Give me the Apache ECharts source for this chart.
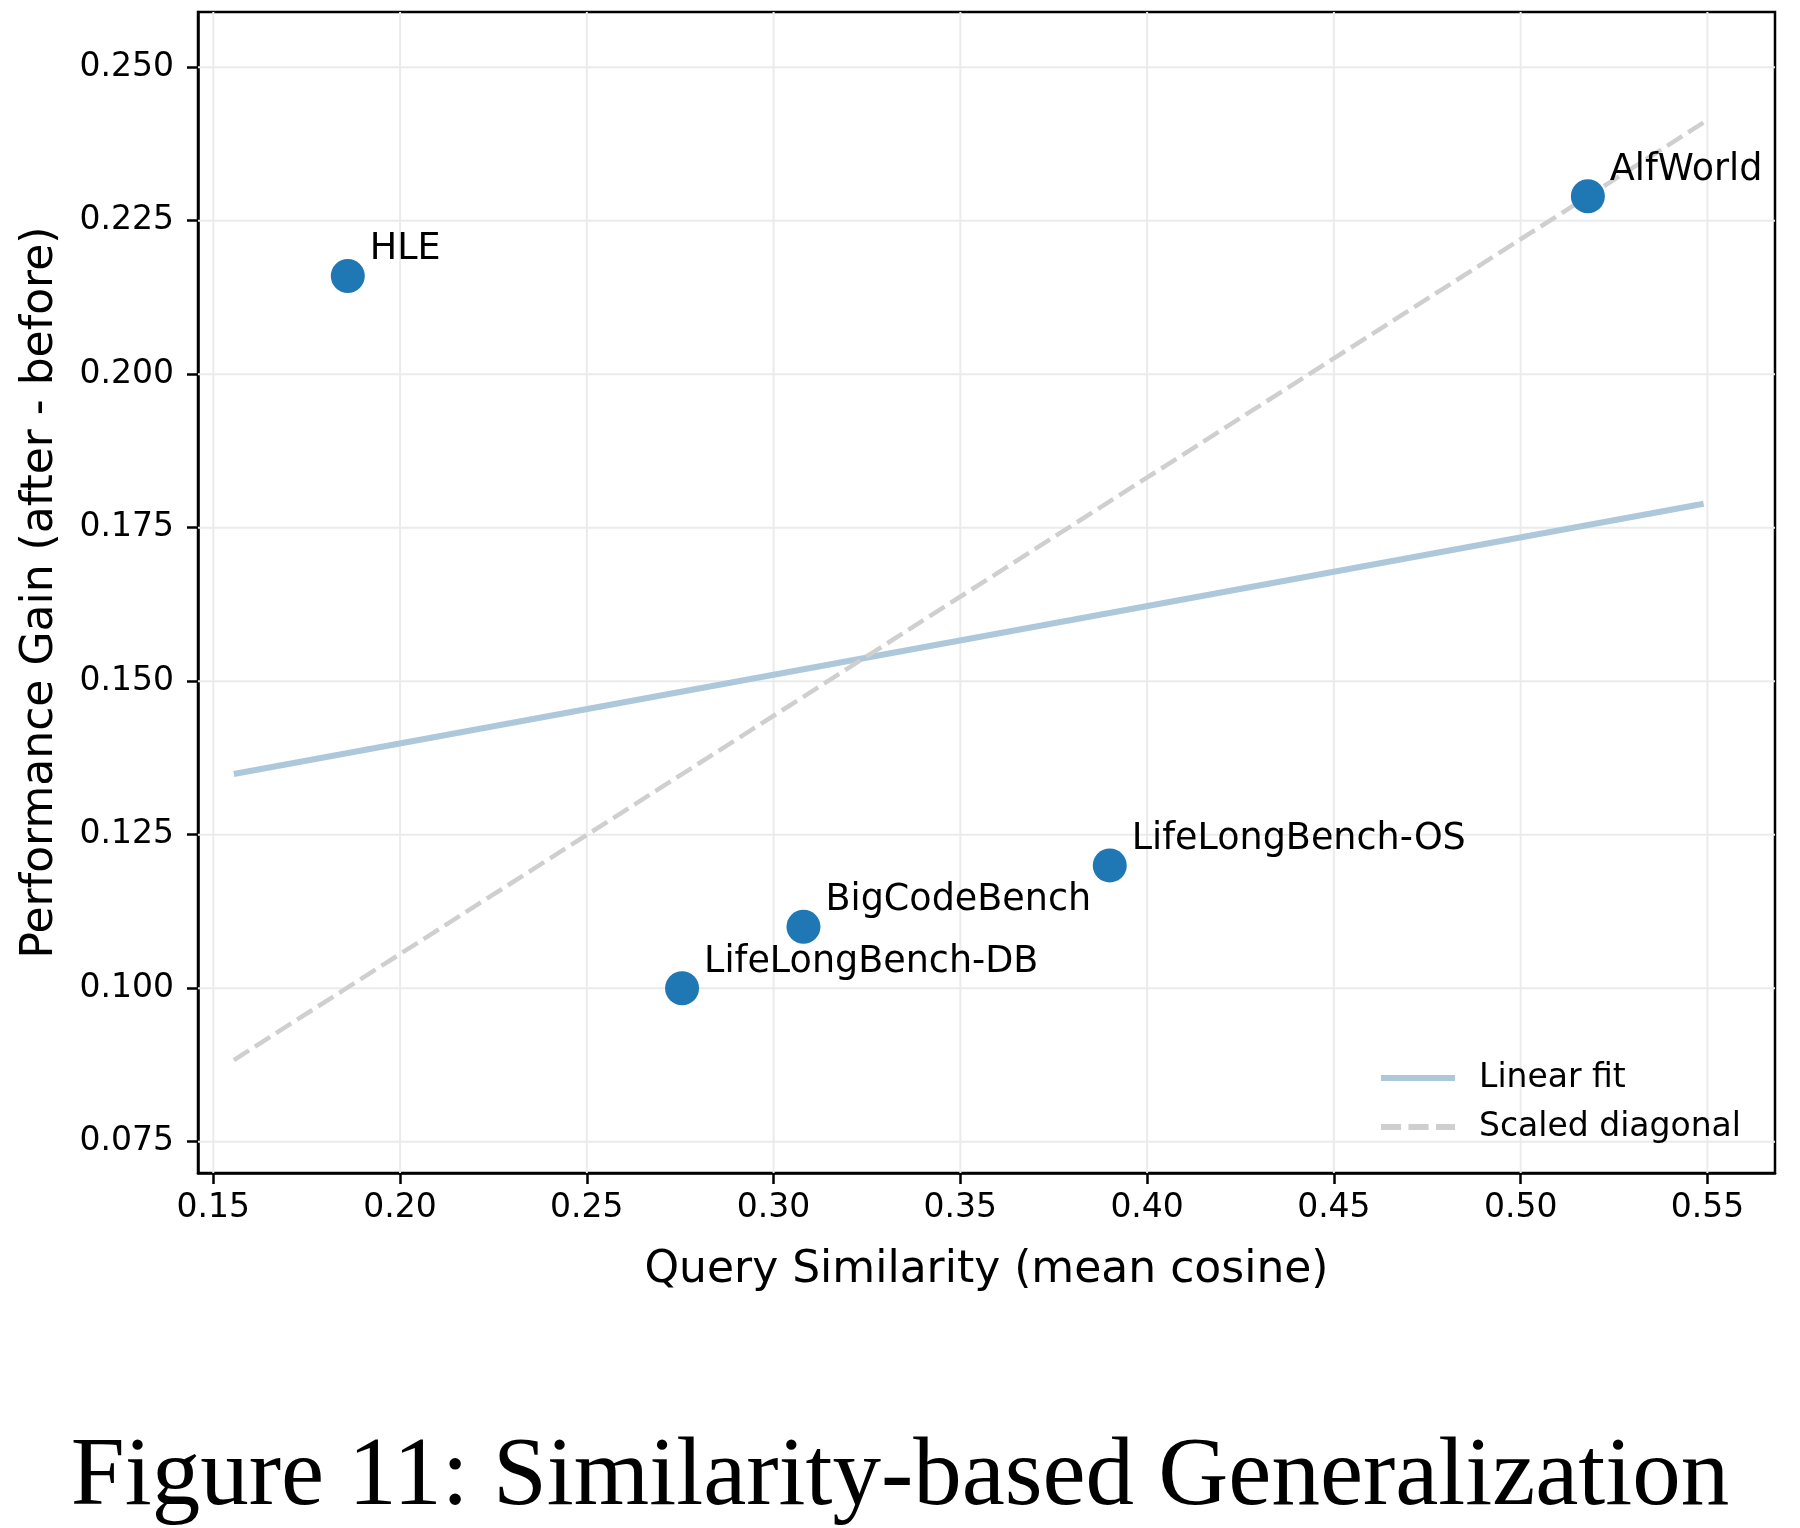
<!DOCTYPE html>
<html>
<head>
<meta charset="utf-8">
<script src="https://cdn.jsdelivr.net/npm/echarts@6/dist/echarts.min.js"></script>
<style>
html,body{margin:0;padding:0;background:#fff;}
#chart{width:1800px;height:1528px;}
</style>
</head>
<body>
<div id="chart"></div>
<script>
// ---- data ----
const benchNames = ['HLE', 'LifeLongBench-DB', 'BigCodeBench', 'LifeLongBench-OS', 'AlfWorld'];
const similarityX = [0.186, 0.2755, 0.308, 0.390, 0.518];
const gainY = [0.216, 0.100, 0.110, 0.120, 0.229];
const fitX = [0.1555, 0.549];
const fitY = [0.1349, 0.1789];
const diagX = [0.1555, 0.549];
const diagY = [0.0883, 0.241];
const xTicks = [0.15, 0.20, 0.25, 0.30, 0.35, 0.40, 0.45, 0.50, 0.55];
const yTicks = [0.075, 0.100, 0.125, 0.150, 0.175, 0.200, 0.225, 0.250];
const xRange = [0.1459, 0.5681];
const yRange = [0.0699, 0.2590];

const FONT = 'DejaVu Sans';
const chart = echarts.init(document.getElementById('chart'), null, {renderer: 'canvas'});

const scatterData = similarityX.map((x, i) => ({value: [x, gainY[i]], name: benchNames[i]}));
const fitData = fitX.map((x, i) => [x, fitY[i]]);
const diagData = diagX.map((x, i) => [x, diagY[i]]);

const GRID_STYLE = {stroke: '#ebebeb', lineWidth: 2};
function vGrid(params, api) {
  const x = api.coord([api.value(0), yRange[0]])[0];
  const yb = api.coord([xRange[0], yRange[0]])[1];
  const yt = api.coord([xRange[0], yRange[1]])[1];
  return {type: 'line', shape: {x1: x, y1: yb, x2: x, y2: yt}, style: GRID_STYLE, silent: true};
}
function hGrid(params, api) {
  const y = api.coord([xRange[0], api.value(1)])[1];
  const xl = api.coord([xRange[0], yRange[0]])[0];
  const xr = api.coord([xRange[1], yRange[0]])[0];
  return {type: 'line', shape: {x1: xl, y1: y, x2: xr, y2: y}, style: GRID_STYLE, silent: true};
}

const dashIcon = 'path://M2,0h19v5h-19z M28,0h19v5h-19z M54,0h18v5h-18z';
const solidIcon = 'path://M0,0h74v6h-74z';

const option = {
  backgroundColor: '#ffffff',
  animation: false,
  title: {
    text: 'Figure 11: Similarity-based Generalization',
    left: 'center',
    top: 1425,
    textStyle: {fontFamily: 'Liberation Serif', fontWeight: 'normal', fontSize: 97, color: '#000'}
  },
  grid: {
    left: 198, top: 12, width: 1577, height: 1161,
    show: true, borderColor: '#000', borderWidth: 2.5, backgroundColor: 'transparent'
  },
  legend: {
    orient: 'vertical',
    left: 1376,
    top: 1054,
    itemWidth: 74,
    itemHeight: 6,
    itemGap: 11,
    symbolKeepAspect: false,
    textStyle: {fontFamily: FONT, fontSize: 33, color: '#000', lineHeight: 38, padding: [0, 0, 0, 19]},
    data: [
      {name: 'Linear fit', icon: solidIcon, itemStyle: {color: '#adc8db'}},
      {name: 'Scaled diagonal', icon: dashIcon, itemStyle: {color: '#cfcfcf'}}
    ]
  },
  xAxis: {
    type: 'value',
    min: xRange[0], max: xRange[1],
    name: 'Query Similarity (mean cosine)',
    nameLocation: 'middle',
    nameGap: 76,
    nameTextStyle: {fontFamily: FONT, fontSize: 44, color: '#000'},
    axisLine: {show: true, onZero: false, lineStyle: {color: '#000', width: 2.5}},
    axisTick: {show: true, inside: false, length: 11, lineStyle: {color: '#000', width: 2.5}, customValues: xTicks},
    axisLabel: {show: true, margin: 19, fontFamily: FONT, fontSize: 33, color: '#000',
      customValues: xTicks, formatter: v => v.toFixed(2)},
    splitLine: {show: false},
    minorSplitLine: {show: false}
  },
  yAxis: {
    type: 'value',
    min: yRange[0], max: yRange[1],
    name: 'Performance Gain (after - before)',
    nameLocation: 'middle',
    nameGap: 135,
    nameRotate: 90,
    nameTextStyle: {fontFamily: FONT, fontSize: 44, color: '#000'},
    axisLine: {show: true, onZero: false, lineStyle: {color: '#000', width: 2.5}},
    axisTick: {show: true, inside: false, length: 11, lineStyle: {color: '#000', width: 2.5}, customValues: yTicks},
    axisLabel: {show: true, margin: 24, fontFamily: FONT, fontSize: 33, color: '#000',
      customValues: yTicks, formatter: v => v.toFixed(3)},
    splitLine: {show: false},
    minorSplitLine: {show: false}
  },
  series: [
    {
      name: 'vgrid',
      type: 'custom',
      silent: true,
      z: 1,
      renderItem: vGrid,
      data: xTicks.map(v => [v, yRange[0]])
    },
    {
      name: 'hgrid',
      type: 'custom',
      silent: true,
      z: 1,
      renderItem: hGrid,
      data: yTicks.map(v => [xRange[0], v])
    },
    {
      name: 'Linear fit',
      type: 'line',
      data: fitData,
      symbol: 'none',
      z: 3,
      lineStyle: {color: '#adc8db', width: 6},
      itemStyle: {color: '#adc8db'}
    },
    {
      name: 'Scaled diagonal',
      type: 'line',
      data: diagData,
      symbol: 'none',
      z: 3,
      lineStyle: {color: '#cfcfcf', width: 4.5, type: [18, 7]},
      itemStyle: {color: '#cfcfcf'}
    },
    {
      name: 'points',
      type: 'scatter',
      data: scatterData,
      symbol: 'circle',
      symbolSize: 34,
      z: 4,
      itemStyle: {color: '#1f77b4', opacity: 1},
      label: {
        show: true,
        position: [39, -9],
        align: 'left',
        verticalAlign: 'middle',
        formatter: p => p.name,
        fontFamily: FONT,
        fontSize: 36.5,
        color: '#000'
      }
    }
  ]
};
chart.setOption(option);
</script>
</body>
</html>
